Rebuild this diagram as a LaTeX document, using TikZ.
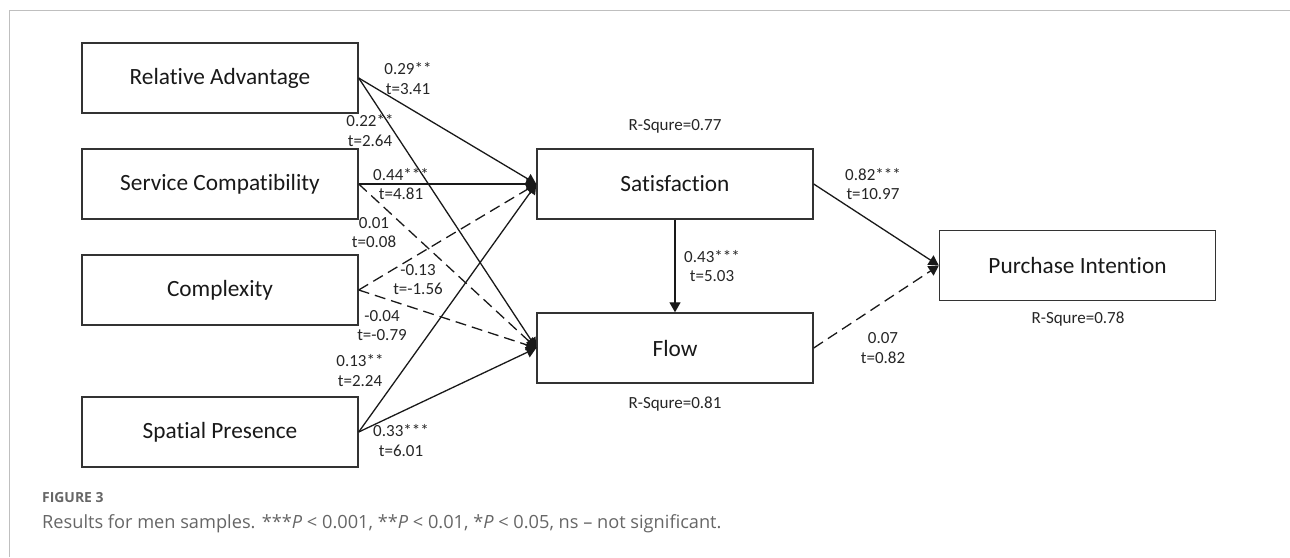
\documentclass[tikz,border=0pt]{standalone}
\usepackage{fontspec}
\setmainfont{Carlito}[Ligatures=NoCommon]
\newfontfamily\capfont{Open Sans}
\usetikzlibrary{arrows.meta}

\begin{document}
\begin{tikzpicture}[x=1pt,y=-1pt,
		var/.style={draw=black!80, line width=1.4pt, minimum width=276pt, minimum height=70pt, inner sep=0pt, font=\fontsize{23.3}{27}\selectfont, text=black!90},
		coef/.style={align=center, inner sep=0pt, font=\fontsize{17}{19.6}\selectfont, text=black!85},
		link/.style={line width=1.3pt, draw=black!90, -{Triangle[length=10pt,width=11pt]}},
		ns/.style={link, dash pattern=on 11pt off 6pt}]
			\useasboundingbox (0,0) rectangle (1290,557);
			\draw[black!25, line width=1pt] (9,557) -- (9,10) -- (1290,10);

			% CONSTRUCTS
			\node[var] (RA) at (220,78) {Relative Advantage};
			\node[var] (SC) at (220,184) {Service Compatibility};
			\node[var] (CX) at (220,290) {Complexity};
			\node[var] (SP) at (220,432) {Spatial Presence};
			\node[var] (SAT) at (675,184) {Satisfaction};
			\node[var] (FLOW) at (675,348) {Flow};
			\node[var] (PI) at (1077.5,265.5) {Purchase Intention};

			% PATHS
			\draw[link] (RA.east) -- (SAT.west);
			\draw[link] (RA.east) -- (FLOW.west);
			\draw[link] (SC.east) -- (SAT.west);
			\draw[ns] (SC.east) -- (FLOW.west);
			\draw[ns] (CX.east) -- (SAT.west);
			\draw[ns] (CX.east) -- (FLOW.west);
			\draw[link] (SP.east) -- (SAT.west);
			\draw[link] (SP.east) -- (FLOW.west);
			\draw[link] (SAT.south) -- (FLOW.north);
			\draw[link] (SAT.east) -- (PI.west);
			\draw[ns] (FLOW.east) -- (PI.west);

			% COEFFICIENTS
			\node[coef] (c1) at (408,78.5) {0.29**\\t=3.41};
			\node[coef] (c2) at (370,130.5) {0.22**\\t=2.64};
			\node[coef] (c3) at (401,184) {0.44***\\t=4.81};
			\node[coef] (c4) at (374,232.5) {0.01\\t=0.08};
			\node[coef] (c5) at (418,279.5) {-0.13\\t=-1.56};
			\node[coef] (c6) at (382,325.5) {-0.04\\t=-0.79};
			\node[coef] (c7) at (360,370.5) {0.13**\\t=2.24};
			\node[coef] (c8) at (401,440.5) {0.33***\\t=6.01};
			\node[coef] (c9) at (712,266) {0.43***\\t=5.03};
			\node[coef] (c10) at (873,184) {0.82***\\t=10.97};
			\node[coef] (c11) at (883,348) {0.07\\t=0.82};

			% R SQUARE
			\node[coef] (r1) at (675,126) {R-Squre=0.77};
			\node[coef] (r2) at (675,404) {R-Squre=0.81};
			\node[coef] (r3) at (1078,319) {R-Squre=0.78};

			% CAPTION
			\node[anchor=west, inner sep=0pt, text=black!60, font=\capfont\bfseries\fontsize{13.9}{16}\selectfont] (fig) at (42,498) {FIGURE 3};
			\node[anchor=west, inner sep=0pt, text=black!60, font=\capfont\fontsize{18.2}{21}\selectfont] (cap) at (42,524) {Results for men samples. ***\textit{P} < 0.001, **\textit{P} < 0.01, *\textit{P} < 0.05, ns – not significant.};
		\end{tikzpicture}
\end{document}
